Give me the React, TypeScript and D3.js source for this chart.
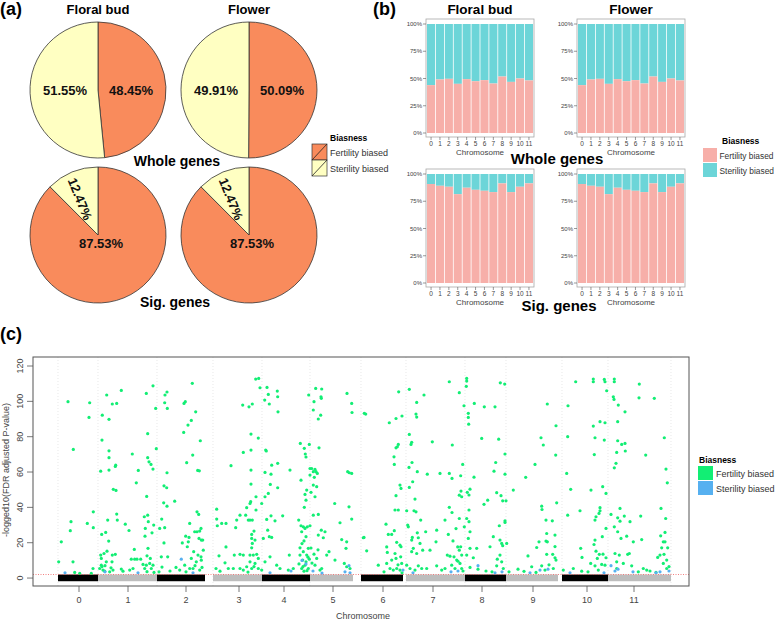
import React from "react";
import * as d3 from "d3";

const FONT = "'Liberation Sans', Arial, sans-serif";

// ---------- (a) pie shares, % ----------
const tissues = ["Floral bud", "Flower"];
const biasness = ["Fertility biased", "Sterility biased"];
const wholeFertilityPct = [48.45, 50.09];
const wholeSterilityPct = [51.55, 49.91];
const sigFertilityPct = [87.53, 87.53];
const sigSterilityPct = [12.47, 12.47];

// ---------- (b) fertility-biased share by chromosome ----------
const chromosomes = ["0", "1", "2", "3", "4", "5", "6", "7", "8", "9", "10", "11"];
const budWholeShare = [0.439, 0.491, 0.497, 0.451, 0.494, 0.475, 0.485, 0.454, 0.518, 0.469, 0.5, 0.482];
const flowerWholeShare = [0.439, 0.491, 0.497, 0.451, 0.494, 0.475, 0.485, 0.454, 0.518, 0.469, 0.5, 0.482];
const budSigShare = [0.908, 0.892, 0.883, 0.815, 0.874, 0.855, 0.846, 0.834, 0.914, 0.834, 0.883, 0.914];
const flowerSigShare = [0.908, 0.892, 0.883, 0.815, 0.874, 0.855, 0.846, 0.834, 0.914, 0.834, 0.883, 0.914];

// ---------- (c) manhattan plot ----------
const chrStart = [0, 40, 99, 155, 204, 252, 303, 348, 407, 448, 504, 550];
const chrEnd = [40, 99, 147, 204, 252, 295, 345, 407, 448, 500, 550, 613];
const chrTickPos = [21, 70, 128, 181, 226, 275, 325, 375, 424, 475, 529, 576];
const yTicks = [0, 20, 40, 60, 80, 100, 120];
const threshold = 2;
const nonSigTop = 2;

// [cumulative position, -log10(FDR)]
const fertilityPoints: [number, number][] = [
  // chr0
  [10, 99.8], [31.7, 99.2], [31, 90.9], [15.3, 72.8], [13, 31.9], [12.3, 26.8], [3.3, 20.5], [29.3, 30.9],
  [35.3, 37.5], [35.3, 28.5], [15, 9.2], [0.7, 9.2], [16.7, 3.2], [21.7, 2.6], [35, 5.4], [33.3, 2.6],
  // chr1
  [63.3, 106.2], [48.7, 103.6], [54.3, 98.5], [58.7, 98.8], [44.3, 92.2], [51, 89.8], [44, 78.1], [51, 72],
  [51, 68.1], [57.7, 63.9], [57.3, 63.2], [51, 61.1], [42.7, 60.5], [55.3, 50.2], [58, 49.6], [58.7, 36.2],
  [49.7, 32.8], [59.3, 32.8], [43.7, 24.7], [47.7, 25.8], [50.7, 20.9], [46, 13.9], [42.7, 13], [49, 15.2],
  [54.3, 13], [57.3, 13.4], [54, 9.2], [43.3, 7.3], [67.3, 30.5], [71, 26.9], [74.3, 70.2], [80.3, 60.9],
  [78.3, 53.9], [88.7, 46.2], [86.3, 34.7], [89.7, 35.6], [90.3, 31.9], [87.3, 28.1], [87, 23.7], [95.7, 30],
  [94, 25.6], [76.3, 16.2], [76.7, 10.7], [82.7, 10.7], [90, 16.8], [89, 12.6], [92.3, 11.1], [88.3, 104.5],
  [95, 108.8], [97.7, 96], [89.7, 81.7], [89.7, 68.1], [91, 65.8], [93, 64.3], [95, 61.7], [98.3, 73.2],
  [41.7, 5.4], [45, 4.5], [46.7, 3.9], [51.7, 3.5], [55, 4.5], [63.3, 5.1], [73.3, 10.7], [79, 10.7],
  [85, 7.7], [88.3, 7.3], [91.7, 8.3], [95, 7.3], [86.7, 5.4], [93.3, 5.4], [75, 5.4], [71.7, 4.5],
  [65, 3.9], [48.3, 9.2], [43.3, 11.1], [44, 6.5], [47, 7], [53, 5.8], [89, 3.6], [96, 3.2],
  // chr2
  [101.7, 28.1], [103.7, 33.4], [106.7, 28.5], [106, 52.2], [108.7, 51.1], [105.7, 42.6], [109, 40.7], [109, 59.6],
  [116.7, 43.5], [107, 103.6], [109, 105.3], [106.7, 99.2], [109.3, 96], [103.3, 12], [109.7, 12], [106, 19.9],
  [134.3, 110.2], [126, 98.8], [127.3, 99.8], [137.7, 94.1], [133.3, 89.2], [130, 86.6], [125.7, 82.4], [142.3, 77.7],
  [134.7, 69.6], [128.7, 65.3], [139.7, 60.9], [141.3, 60.7], [139, 37.5], [140.7, 36], [131.7, 30.9], [136.7, 26.2],
  [139, 26.2], [141.7, 26.6], [127.7, 23.7], [131, 23], [129.3, 17.7], [130.3, 20.5], [141, 22.4], [124.3, 19.9],
  [135.7, 14.9], [140, 13], [133.3, 11.1], [138.3, 9.2], [126.7, 7.3], [131.7, 5.4], [141.7, 4.5], [135, 5.4],
  [143.3, 10.1], [121.7, 4.5], [143.3, 21.5], [143, 28.1], [144.7, 21.5], [145.3, 15.8], [143, 12],
  [112, 4], [118, 6], [128, 3.5], [137, 7], [144, 6], [101, 3.5], [104, 6.2],
  // chr3
  [158.7, 39], [158.7, 33.4], [159.3, 29.6], [163.7, 30.9], [168, 30.9], [173, 63.6], [177.7, 28.5], [178.7, 32.8],
  [182, 35.6], [168, 17.6], [161, 12.6], [167, 8.6], [176.3, 13], [182, 13.4], [185.3, 13], [158, 5.4],
  [162, 3.9], [170.3, 5.4], [175.3, 5.4], [184.7, 97.9], [191, 96.9], [194.3, 98.5], [185.3, 71.1], [193, 72.4],
  [193, 81.5], [200.3, 79.2], [197.7, 112.6], [200.7, 113], [202, 107.7], [193, 61.1], [193, 53.2], [192, 42.2],
  [192.7, 43.2], [190.3, 32.8], [192, 32.8], [194.3, 32.8], [193.7, 24.7], [196, 26.6], [193.7, 22.4], [194.3, 19.6],
  [193.7, 17.1], [197, 21.5], [198, 46], [198, 38.5], [188.7, 39.8], [187.7, 35.6], [192, 13], [195.3, 13],
  [198.7, 13.4], [200.3, 11.1], [192, 9.2], [197, 8.3], [182, 5.4], [188.7, 6.4], [193.7, 5.4], [200.3, 5.4],
  [185.3, 4.5], [203.7, 4.5], [203.7, 42.2], [196, 6.5], [190, 3.4],
  // chr4
  [209, 107.9], [206.7, 100.7], [211.3, 98.5], [210.3, 103.9], [219.3, 105.8], [219.7, 102.6], [220, 94.1], [207.7, 72.4],
  [208.3, 71.9], [213.7, 63.9], [219.7, 64.9], [207, 59.8], [213, 58.8], [212.3, 53], [210.3, 47.9], [219.7, 51.1],
  [207, 46], [213, 35.2], [217, 32.4], [208.7, 33.2], [224.7, 35.2], [209.7, 27.1], [211.3, 23.4], [213.7, 23],
  [205.3, 22.4], [212, 12], [207, 9.2], [218.7, 7.3], [231.3, 13], [232, 61.1], [242.3, 76.2], [251.3, 75.6],
  [246.3, 73.4], [247.3, 70.2], [248, 68.5], [243, 55.4], [247, 47.3], [248, 44.1], [246.3, 40], [248.7, 49.8],
  [240.7, 32.8], [243, 29.6], [245.3, 29], [247, 28.1], [249.3, 29], [243.7, 26.2], [248, 23.4], [242, 17.1],
  [250.3, 16.8], [245.3, 14.9], [242, 13], [248.7, 13], [244.7, 10.2], [248, 9.2], [251.3, 10.7], [247, 7.3],
  [243.7, 5.4], [250.3, 5.4], [246, 3.9], [222, 5.4], [230.3, 4.5], [235.3, 5.4], [241, 8], [245, 6.5],
  [249, 4.2], [244, 19.5], [246, 21], [250, 11.8],
  // chr5
  [250.7, 103.6], [257.7, 107.3], [263.7, 107], [263, 102.6], [263.3, 101.7], [256, 99.8], [255.3, 95.1], [262.7, 92.2],
  [260.3, 90], [261, 73.7], [252, 62], [253.7, 62], [255.3, 60.2], [257, 61.5], [258, 60.2], [259.3, 59.2],
  [252, 58.3], [256.3, 57], [255.3, 52.6], [258.7, 51.7], [253, 48.5], [257, 46], [260.3, 36], [255.3, 35.6],
  [252, 29.6], [263.3, 27.1], [267, 26.2], [260.3, 24.3], [265.3, 22.8], [271, 14.9], [268.7, 13], [276.7, 42.2],
  [282, 31.3], [289, 104.5], [293.7, 98.8], [294, 93.7], [289.7, 60.2], [291.3, 59.6], [293.7, 59.2], [291, 40.3],
  [293.7, 33.4], [283.7, 21.8], [288.7, 20.5], [288, 16.8], [286.3, 8.3], [277, 10.2], [288.7, 6.4], [292, 5.4],
  [258.7, 11.1], [257, 7.3], [263.7, 5.4], [262, 4.5], [254, 8.5], [256, 13.5], [253, 17], [260, 16],
  // chr6
  [306.3, 93.2], [305.3, 22.8], [307.7, 92.8], [306, 23], [308.7, 15.4], [320.3, 7.3], [331.3, 87.9], [338, 90.3],
  [344, 91.7], [340.7, 105.4], [340.3, 75.6], [339.3, 74.3], [338, 73.7], [336, 68.6], [336.3, 64.3], [342, 52.6],
  [343, 50.7], [338, 46.6], [337, 38.5], [340.3, 38.5], [328, 30.5], [330.3, 24.7], [333.7, 24.7], [336.3, 26.8],
  [338.7, 20.2], [342, 18.6], [343, 17.7], [328.7, 17.6], [329.3, 14.5], [337, 13.9], [338, 11.1], [342.7, 12],
  [333.7, 10.2], [328.7, 8.3], [332, 5.4], [335.3, 4.5], [338.7, 5.4], [342, 4.5], [343.7, 8.3], [326, 3.5],
  [340, 7.5], [344, 3],
  // chr7
  [351.3, 106.8], [366, 103.6], [358.7, 99.4], [358, 92.8], [358.7, 91.1], [351.3, 81.3], [353.7, 76.8], [353, 75.6],
  [374.3, 77.1], [354, 65.4], [351, 62.6], [359.3, 60.2], [354.7, 54.5], [369.3, 58.8], [351.3, 51.3], [357, 44.7],
  [348.7, 38.1], [356, 38.1], [358, 37.5], [362.7, 32.8], [349.7, 30], [350.3, 29], [359.3, 25.6], [367.7, 26.2],
  [354.3, 23], [353.7, 21.5], [360.3, 22.8], [362, 19.6], [355.3, 16.8], [353.7, 14.9], [358.7, 13.9], [364.7, 15.8],
  [372, 15.8], [378.7, 27.1], [378, 20.5], [382, 59.2], [387, 32.8], [390.3, 24.7], [391.3, 59.2], [394, 56.4],
  [391.3, 111.1], [401.3, 104.9], [402.7, 57.9], [394.3, 75.3], [391.3, 40], [394, 37.1], [404.7, 64.3], [403, 49.2],
  [401.3, 46.9], [403.7, 46], [401.3, 33.7], [389.3, 13], [392, 12.4], [396, 12], [399.7, 17.6], [402.7, 17.7],
  [401.3, 15.8], [403.7, 13], [398.7, 10.2], [402, 8.3], [393.7, 7.3], [397, 5.4], [403.7, 5.4], [348.7, 7.3],
  [352, 5.4], [357, 4.5], [360.3, 6.9], [363.7, 5.4], [368.7, 5.4], [378.7, 6.9], [383.7, 4.5], [387, 5.4],
  [395, 21], [398, 28], [400, 9.5], [405, 4],
  // chr8
  [408.7, 113], [408.7, 111.5], [408.3, 108.5], [406, 97.5], [410.3, 93.2], [410.3, 90.9], [410.7, 87.1], [416.3, 98.8],
  [426.3, 96.9], [437, 96.9], [442.3, 110.5], [446.7, 109.8], [423.7, 79], [440.7, 78.6], [447, 70.2], [437.7, 65.4],
  [436, 60.5], [447, 58.8], [416, 57.1], [412, 50.3], [409.3, 48.5], [411, 47], [438.7, 48.3], [443, 46.6],
  [444.7, 43.7], [448, 43.7], [429.7, 44.1], [426, 41.7], [411, 38.5], [408.7, 33.7], [406.3, 29], [411, 31.9],
  [412, 26.2], [410.3, 22.4], [435.3, 23.4], [441.3, 29.6], [447, 32.4], [447, 31.5], [442, 21.5], [443.7, 19.6],
  [448.7, 19.6], [444.7, 18.3], [432, 17.7], [412, 16.8], [418.7, 16.8], [408.7, 13], [415.3, 11.5], [442, 13],
  [439.3, 10.7], [443.7, 9.2], [438.7, 6.9], [445.3, 5.4], [420, 5], [428, 4], [412, 6], [434, 3.5],
  // chr9
  [455.3, 49.8], [467.7, 57], [477, 64.3], [483, 79.4], [485.3, 75.3], [489.3, 98.5], [498, 86.2], [497.7, 69.6],
  [498.7, 42.6], [494.3, 32.4], [488, 32.8], [483.7, 40.7], [484, 38.8], [488.7, 25.2], [488, 20.9], [489.3, 20.5],
  [497, 24.3], [497, 17.8], [481, 20.5], [478.7, 17.3], [488.7, 13.4], [494.7, 13.4], [497, 11.5], [498, 10.2],
  [483.7, 6.9], [473.7, 6.4], [495.3, 5.4], [487, 4.5], [451, 3.5], [460, 5], [466, 3.8], [491, 7.5],
  [478, 3.2], [470, 12.5],
  // chr10
  [517.7, 111.1], [535.3, 112.6], [535.3, 111.1], [546.3, 112.4], [547, 111.1], [548.7, 106], [510, 97.5], [509.7, 80],
  [535.3, 86], [542, 88.5], [547, 87.9], [537, 79.4], [546.3, 78.1], [536.3, 69.9], [508.7, 59.2], [512.7, 50.2],
  [533, 49.8], [544.7, 51.7], [548, 47.9], [522, 38.1], [509.7, 35.6], [542, 39.8], [542, 38.1], [541, 36.6],
  [538, 34.7], [537, 32.8], [548, 28.1], [544.3, 23.4], [537, 21.5], [536, 19], [522.7, 16.8], [524, 11.7],
  [538, 15.2], [541.3, 13.4], [539.3, 11.1], [548, 11.5], [532.7, 8.3], [537, 6.9], [543.7, 7.7], [547, 7.3],
  [515.3, 5.4], [505.3, 4.5], [523.7, 3.9], [540.3, 4.5], [530, 3.5], [545, 13.5],
  // chr11
  [556.3, 112.6], [556.3, 111.1], [555.3, 102.6], [556, 101.1], [560.3, 97.9], [567, 94.1], [581.3, 109.8], [581, 102],
  [596.3, 101.7], [559.7, 88.5], [559.7, 77.7], [563.7, 75.6], [567, 76.2], [567.3, 71.9], [558.7, 71.1], [558, 64.9],
  [556.3, 62.4], [587.7, 69.6], [606.3, 79.4], [608, 61.7], [609.3, 53.9], [553, 36], [562, 39.4], [559.7, 34.1],
  [562, 32.2], [566.3, 35.1], [572, 31.9], [582.7, 35.1], [603, 39.4], [607.7, 33.7], [607, 25.8], [556.3, 29],
  [559.7, 26.2], [563, 22.4], [568.7, 23.7], [575.3, 20.5], [583.7, 21.8], [602.7, 23.9], [605.3, 20.5], [607, 20.5],
  [609.7, 17.1], [603.7, 17.1], [569.7, 13.4], [571.3, 13.9], [561.3, 13], [557, 13.9], [599.7, 11.7], [602, 13],
  [606, 13.4], [608.7, 10.2], [558.7, 9.2], [565.3, 8.3], [573.7, 6.9], [585.3, 5.4], [588.7, 4.5], [605.3, 8.3],
  [608.7, 5.4], [558.7, 5.4], [580.3, 3.5], [592, 4], [598, 3.2], [611, 6.5],
];

const sterilityPoints: [number, number][] = [
  [7, 3], [47, 3.5], [80, 3], [123.3, 10.7], [135, 3], [212, 3], [233, 4], [248, 8], [244, 10], [255, 4],
  [264, 2.8], [287, 3.5], [291, 7], [292, 3], [345, 4.5], [355, 3], [393, 3.5], [400, 4], [420, 7], [437, 3],
  [444, 3.5], [472, 3], [482, 4.5], [490, 5], [512, 3], [546, 3], [553, 7], [557, 4], [560, 5], [575, 3.5],
  [598, 3], [602, 3.5], [611, 4],
];

const ORANGE = "#F98B5C";
const YELLOW = "#FFFFC2";
const PINK = "#F7AFA9";
const TEAL = "#6CD5D8";
const GREEN = "#12EE74";
const BLUE = "#56B0F0";

const R = 68;

function Pie({ cx, cy, values, labels }: { cx: number; cy: number; values: number[]; labels: { dx: number; dy: number; rot: number }[] }) {
  const arcs = d3.pie<number>().sort(null).value((d) => d)(values);
  const arc = d3.arc<d3.PieArcDatum<number>>().innerRadius(0).outerRadius(R);
  const colors = [ORANGE, YELLOW];
  return (
    <g transform={`translate(${cx},${cy})`}>
      {arcs.map((a, i) => (
        <path key={i} d={arc(a) || ""} fill={colors[i]} stroke="#333" strokeWidth={0.8} />
      ))}
      {arcs.map((a, i) => {
        const l = labels[i];
        return (
          <text
            key={"t" + i}
            transform={`translate(${l.dx},${l.dy}) rotate(${l.rot})`}
            textAnchor="middle"
            dy="0.35em"
            fontSize={13}
            fontWeight="bold"
            fill="#111"
          >
            {values[i].toFixed(2)}%
          </text>
        );
      })}
    </g>
  );
}

function BarPanel({ left, top, shares, title }: { left: number; top: number; shares: number[]; title?: string }) {
  const w = 108;
  const x = d3.scaleBand<string>().domain(chromosomes).range([left + 1, left + w - 1]).paddingInner(0.09);
  const y = d3.scaleLinear().domain([0, 1]).range([top + 114, top + 5]);
  const yt = [0, 0.25, 0.5, 0.75, 1];
  return (
    <g>
      {title && (
        <text x={left + w / 2} y={top - 5} textAnchor="middle" fontSize={13.5} fontWeight="bold">
          {title}
        </text>
      )}
      <rect x={left} y={top} width={w} height={118} fill="#fff" stroke="#A8A8A8" strokeWidth={0.8} />
      {shares.map((s, i) => (
        <g key={i}>
          <rect x={x(chromosomes[i])} y={y(1)} width={x.bandwidth()} height={y(s) - y(1)} fill={TEAL} />
          <rect x={x(chromosomes[i])} y={y(s)} width={x.bandwidth()} height={y(0) - y(s)} fill={PINK} />
        </g>
      ))}
      {yt.map((t) => (
        <g key={t}>
          <line x1={left - 3} x2={left} y1={y(t)} y2={y(t)} stroke="#555" strokeWidth={0.6} />
          <text x={left - 4} y={y(t)} dy="0.35em" textAnchor="end" fontSize={6} fill="#444">
            {d3.format(".0%")(t)}
          </text>
        </g>
      ))}
      {chromosomes.map((c) => (
        <g key={c}>
          <line x1={x(c)! + x.bandwidth() / 2} x2={x(c)! + x.bandwidth() / 2} y1={top + 118} y2={top + 121} stroke="#555" strokeWidth={0.6} />
          <text x={x(c)! + x.bandwidth() / 2} y={top + 127} textAnchor="middle" fontSize={6.5} fill="#444">
            {c}
          </text>
        </g>
      ))}
      <text x={left + w / 2} y={top + 135.5} textAnchor="middle" fontSize={8} fill="#444">
        Chromosome
      </text>
    </g>
  );
}

export default function App() {
  // pie layout
  const pieCx = [98, 249];
  const wholeLabels = [
    { dx: 33, dy: 0, rot: 0 },
    { dx: -33, dy: 0, rot: 0 },
  ];
  const sigLabels = [
    { dx: 3, dy: 8, rot: 0 },
    { dx: -18, dy: -36, rot: 67.6 },
  ];

  // manhattan scales
  const mx = d3.scaleLinear().domain([-25, 631]).range([33, 689]);
  const my = d3.scaleLinear().domain([-4.5, 125.1]).range([586, 357]);

  return (
    <div style={{ position: "absolute", left: 0, top: 0 }}>
      <svg width={778} height={621} style={{ display: "block", fontFamily: FONT }}>
        <rect width={778} height={621} fill="#fff" />

        {/* (a) */}
        <text x={0} y={15} fontSize={18} fontWeight="bold">(a)</text>
        {tissues.map((t, i) => (
          <text key={t} x={pieCx[i]} y={14} textAnchor="middle" fontSize={13} fontWeight="bold">
            {t}
          </text>
        ))}
        {tissues.map((t, i) => (
          <Pie key={"w" + t} cx={pieCx[i]} cy={90} values={[wholeFertilityPct[i], wholeSterilityPct[i]]} labels={wholeLabels} />
        ))}
        {tissues.map((t, i) => (
          <Pie key={"s" + t} cx={pieCx[i]} cy={235} values={[sigFertilityPct[i], sigSterilityPct[i]]} labels={sigLabels} />
        ))}
        <text x={177} y={166} textAnchor="middle" fontSize={14} fontWeight="bold">Whole genes</text>
        <text x={175} y={307} textAnchor="middle" fontSize={14} fontWeight="bold">Sig. genes</text>
        <g>
          <text x={330} y={141} fontSize={8.5} fontWeight="bold">Biasness</text>
          {biasness.map((b, i) => (
            <g key={b}>
              <rect x={312} y={144 + i * 16} width={15} height={16} fill={[ORANGE, YELLOW][i]} stroke="#333" strokeWidth={0.7} />
              <line x1={312} y1={160 + i * 16} x2={327} y2={144 + i * 16} stroke="#222" strokeWidth={0.8} />
              <text x={330} y={156 + i * 16} fontSize={9} fill="#333">{b}</text>
            </g>
          ))}
        </g>

        {/* (b) */}
        <text x={373} y={15} fontSize={18} fontWeight="bold">(b)</text>
        <BarPanel left={426} top={19} shares={budWholeShare} title={tissues[0]} />
        <BarPanel left={577} top={19} shares={flowerWholeShare} title={tissues[1]} />
        <BarPanel left={426} top={169} shares={budSigShare} />
        <BarPanel left={577} top={169} shares={flowerSigShare} />
        <text x={557} y={164} textAnchor="middle" fontSize={15} fontWeight="bold">Whole genes</text>
        <text x={559} y={311} textAnchor="middle" fontSize={15} fontWeight="bold">Sig. genes</text>
        <g>
          <text x={722} y={144} fontSize={8.5} fontWeight="bold">Biasness</text>
          {biasness.map((b, i) => (
            <g key={b}>
              <rect x={703} y={148 + i * 15} width={14} height={14} fill={[PINK, TEAL][i]} />
              <text x={719.5} y={158.5 + i * 15} fontSize={8.4} fill="#333">{b}</text>
            </g>
          ))}
        </g>

        {/* (c) */}
        <text x={0} y={340} fontSize={18} fontWeight="bold">(c)</text>
        {chrStart.map((s, i) => (
          <line key={"sep" + i} x1={mx(s)} x2={mx(s)} y1={357} y2={586} stroke="#D8D8D8" strokeWidth={0.6} strokeDasharray="1,2" />
        ))}
        <line x1={mx(chrEnd[11])} x2={mx(chrEnd[11])} y1={357} y2={586} stroke="#D8D8D8" strokeWidth={0.6} strokeDasharray="1,2" />
        {chrStart.map((s, i) => (
          <rect
            key={"band" + i}
            x={mx(s)}
            width={mx(chrEnd[i]) - mx(s)}
            y={my(nonSigTop)}
            height={my(-1.8) - my(nonSigTop)}
            fill={i % 2 === 0 ? "#000" : "#BDBDBD"}
          />
        ))}
        {fertilityPoints.map((p, i) => (
          <circle key={"f" + i} cx={mx(p[0])} cy={my(p[1])} r={1.6} fill={GREEN} />
        ))}
        {sterilityPoints.map((p, i) => (
          <circle key={"s" + i} cx={mx(p[0])} cy={my(p[1])} r={1.6} fill={BLUE} />
        ))}
        <line x1={33} x2={689} y1={my(threshold)} y2={my(threshold)} stroke="#F06060" strokeWidth={0.8} strokeDasharray="1,1.5" />
        <rect x={33} y={357} width={656} height={229} fill="none" stroke="#555" strokeWidth={1} />
        {yTicks.map((t) => (
          <g key={t}>
            <line x1={27} x2={33} y1={my(t)} y2={my(t)} stroke="#555" strokeWidth={0.8} />
            <text transform={`translate(23,${my(t)}) rotate(-90)`} textAnchor="middle" fontSize={9} fill="#444">
              {t}
            </text>
          </g>
        ))}
        {chrTickPos.map((p, i) => (
          <g key={"xt" + i}>
            <line x1={mx(p)} x2={mx(p)} y1={586} y2={592} stroke="#555" strokeWidth={0.8} />
            <text x={mx(p)} y={603} textAnchor="middle" fontSize={9} fill="#444">
              {chromosomes[i]}
            </text>
          </g>
        ))}
        <text x={363} y={619} textAnchor="middle" fontSize={9} fill="#444">Chromosome</text>
        <text transform="translate(9,470) rotate(-90)" textAnchor="middle" fontSize={9} fill="#444">
          -logged10(FDR adjusted P-value)
        </text>
        <g>
          <text x={699} y={463} fontSize={8.5} fontWeight="bold">Biasness</text>
          {biasness.map((b, i) => (
            <g key={b}>
              <rect x={698} y={466 + i * 15} width={15} height={14} fill={[GREEN, BLUE][i]} />
              <text x={716} y={477 + i * 15} fontSize={9} fill="#333">{b}</text>
            </g>
          ))}
        </g>
      </svg>
    </div>
  );
}
